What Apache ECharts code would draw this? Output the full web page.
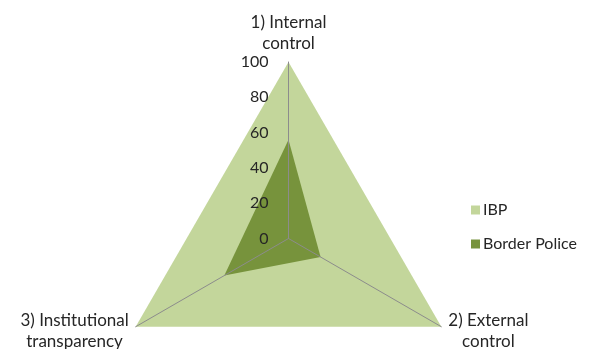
<!DOCTYPE html>
<html><head><meta charset="utf-8">
<script src="https://cdn.jsdelivr.net/npm/echarts@6/dist/echarts.min.js"></script>
<style>html,body{margin:0;padding:0;background:#fff}#c{width:597px;height:349px}</style>
</head><body><div id="c"></div>
<script>
const categories = ["1) Internal\ncontrol", "2) External\ncontrol", "3) Institutional\ntransparency"];
const seriesNames = ["IBP", "Border Police"];
const ibpValues = [100, 100, 100];
const borderPoliceValues = [56, 21, 42];
const tickLabels = [0, 20, 40, 60, 80, 100];

// ECharts radar runs counter-clockwise; show categories clockwise like the original
const order = [0, 2, 1];
const ordered = arr => order.map(i => arr[i]);

const FONT = "Lato";
const chart = echarts.init(document.getElementById('c'));
chart.setOption({
  animation: false,
  textStyle: { fontFamily: FONT },
  legend: {
    orient: 'vertical', left: 466, top: 197,
    icon: 'rect', itemWidth: 9, itemHeight: 9, itemGap: 18,
    textStyle: { fontFamily: FONT, fontSize: 16, color: '#262626', padding: [0,0,0,-2] },
    data: seriesNames
  },
  radar: {
    z: 3,
    center: [288.5, 238.5],
    radius: 176.5,
    startAngle: 90,
    shape: 'polygon',
    splitNumber: tickLabels.length - 1,
    axisName: {
      color: '#262626', fontFamily: FONT, fontSize: 17, lineHeight: 21,
      formatter: n => n.split('\n').map(s => '{a|' + s + '}').join('\n'),
      rich: { a: { align: 'center', fontFamily: FONT, fontSize: 17, lineHeight: 21, color: '#262626' } }
    },
    nameGap: 8,
    axisLine: { lineStyle: { color: '#8c8c8c', width: 1 } },
    axisTick: { show: false },
    splitLine: { show: false },
    splitArea: { show: false },
    axisLabel: { show: true, color: '#262626', fontFamily: FONT, fontSize: 16, margin: 20,
                 formatter: v => tickLabels.indexOf(v) >= 0 ? String(v) : '' },
    indicator: ordered(categories).map((c, i) => i === 0
      ? { name: c, min: tickLabels[0], max: tickLabels[tickLabels.length - 1] }
      : { name: c, min: tickLabels[0], max: tickLabels[tickLabels.length - 1], axisLabel: { show: false } })
  },
  series: [{
    type: 'radar', z: 2,
    symbol: 'none',
    data: [
      { name: seriesNames[0], value: ordered(ibpValues),
        itemStyle: { color: '#C3D69B' }, lineStyle: { width: 0, color: '#C3D69B' }, areaStyle: { color: '#C3D69B', opacity: 1 } },
      { name: seriesNames[1], value: ordered(borderPoliceValues),
        itemStyle: { color: '#77933C' }, lineStyle: { width: 0, color: '#77933C' }, areaStyle: { color: '#77933C', opacity: 1 } }
    ]
  }]
});
</script></body></html>
